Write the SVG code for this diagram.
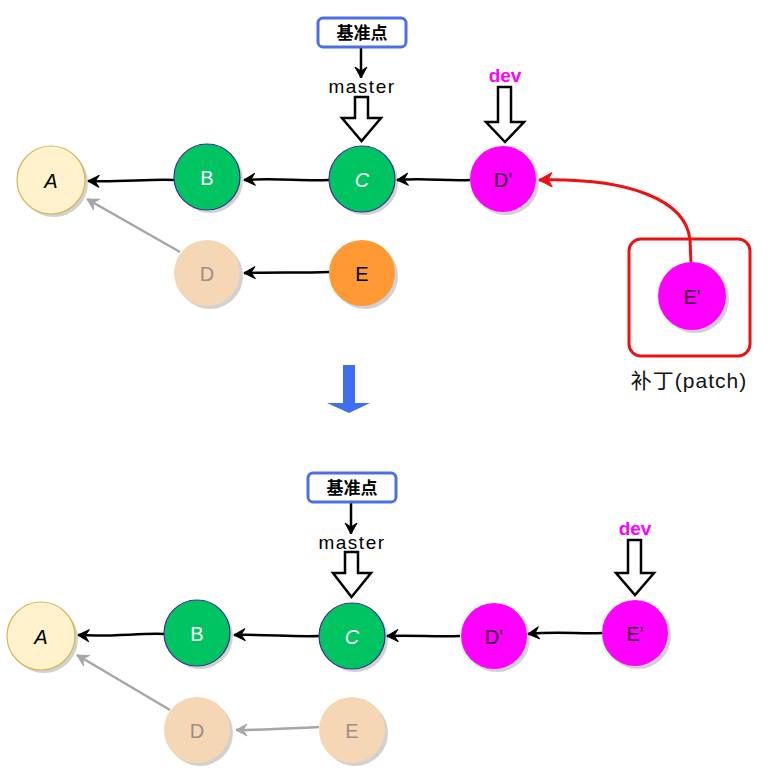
<svg xmlns="http://www.w3.org/2000/svg" width="771" height="783" viewBox="0 0 771 783">
<style>
text{font-family:"Liberation Sans","Noto Sans CJK SC",sans-serif;text-anchor:middle}
.sh{fill:#000;opacity:.18}
.lbl{font-size:20px;dominant-baseline:central}
.nA{fill:#fff2cc;stroke:#d6b656;stroke-width:1.2}
.nG{fill:#00c462;stroke:#3a2f96;stroke-width:1.2}
.nP{fill:#ff00ff;stroke:none}
.nO{fill:#ff9933;stroke:none}
.nF{fill:#f5d6b5;stroke:none}
.tW{fill:#fff}
.tK{fill:#000}
.tP{fill:#33002e}
.tF{fill:#9a8f88}
.base{fill:#fff;stroke:#4d6fe6;stroke-width:3}
.baset{font-size:17px;font-weight:bold;fill:#000}
.mt{font-size:19px;fill:#000;letter-spacing:1.5px}
.dev{font-size:19px;font-weight:bold;fill:#ff00ff}
.hollow{fill:#fff;stroke:#000;stroke-width:2.5;stroke-linejoin:miter}
.c{fill:none;stroke:#000;stroke-width:2.5}
.cg{fill:none;stroke:#a6a6a6;stroke-width:2.5}
.cr{fill:none;stroke:#ee1111;stroke-width:3}
</style>
<defs>
<marker id="ak" markerWidth="14" markerHeight="14" refX="12" refY="7" orient="auto" markerUnits="userSpaceOnUse"><path d="M1,1 L12,7 L1,13 L5,7 z" fill="#000" stroke="#000" stroke-width="1" stroke-linejoin="round"/></marker>
<marker id="ag" markerWidth="14" markerHeight="14" refX="12" refY="7" orient="auto" markerUnits="userSpaceOnUse"><path d="M1,1 L12,7 L1,13 L5,7 z" fill="#a6a6a6" stroke="#a6a6a6" stroke-width="1" stroke-linejoin="round"/></marker>
<marker id="ar" markerWidth="16" markerHeight="16" refX="14" refY="8" orient="auto" markerUnits="userSpaceOnUse"><path d="M1,1 L14,8 L1,15 L5,8 z" fill="#ee1111" stroke="#ee1111" stroke-width="1" stroke-linejoin="round"/></marker>
</defs>

<g id="connectors">
<path class="c" d="M174,180 C150,179 120,182 88,181" marker-end="url(#ak)"/>
<path class="c" d="M329,180 C300,181 275,178 244,180" marker-end="url(#ak)"/>
<path class="c" d="M470,180 C445,181 425,178 397,180" marker-end="url(#ak)"/>
<path class="c" d="M329,272 C300,273 275,272 244,273" marker-end="url(#ak)"/>
<path class="cg" d="M180,252 L87,199" marker-end="url(#ag)"/>
<path class="cr" d="M691,263 L690,240 C686,200 630,178 539,180" marker-end="url(#ar)"/>
<path class="c" d="M361,47 L361,78" marker-end="url(#ak)"/>
<path class="c" d="M351,503 L351,534" marker-end="url(#ak)"/>
<path class="c" d="M164,634 C140,633 110,637 78,635" marker-end="url(#ak)"/>
<path class="c" d="M319,636 C290,637 265,634 234,635" marker-end="url(#ak)"/>
<path class="c" d="M460,636 C435,637 415,635 387,636" marker-end="url(#ak)"/>
<path class="c" d="M602,633 C580,634 555,631 528,634" marker-end="url(#ak)"/>
<path class="cg" d="M170,710 L77,655" marker-end="url(#ag)"/>
<path class="cg" d="M319,727 C295,728 268,730 236,730" marker-end="url(#ag)"/>
</g>

<g id="base1"><rect class="base" x="318" y="18" width="88" height="29" rx="5"/><text class="baset" x="362" y="39">基准点</text></g>
<g id="master1"><text class="mt" x="362" y="93">master</text><polygon class="hollow" points="355,97 368,97 368,118 381,118 361.5,141 342,118 355,118"/></g>
<g id="dev1"><text class="dev" x="505" y="82">dev</text><polygon class="hollow" points="498,87 511,87 511,122 524,122 505,142 486,122 498,122"/></g>

<g id="A1"><circle class="sh" cx="54" cy="183" r="34"/><circle class="nA" cx="51" cy="180" r="34"/><text class="lbl tK" x="51" y="181" font-style="italic">A</text></g>
<g id="B1"><circle class="sh" cx="210" cy="180" r="33"/><circle class="nG" cx="207" cy="177" r="33"/><text class="lbl tW" x="207" y="178">B</text></g>
<g id="C1"><circle class="sh" cx="365" cy="182" r="33"/><circle class="nG" cx="362" cy="179" r="33"/><text class="lbl tW" x="362" y="180" font-style="italic">C</text></g>
<g id="Dp1"><circle class="sh" cx="506" cy="182" r="33"/><circle class="nP" cx="503" cy="179" r="33"/><text class="lbl tP" x="503" y="180">D'</text></g>
<g id="D1"><circle class="sh" cx="210" cy="276" r="33" opacity=".1"/><circle class="nF" cx="207" cy="273" r="33"/><text class="lbl tF" x="207" y="274">D</text></g>
<g id="E1"><circle class="sh" cx="365" cy="276" r="33"/><circle class="nO" cx="362" cy="273" r="33"/><text class="lbl tK" x="362" y="274">E</text></g>

<g id="patch"><rect x="629" y="239" width="121" height="117" rx="12" fill="none" stroke="#ee1111" stroke-width="3"/>
<circle class="sh" cx="695" cy="299" r="34"/><circle class="nP" cx="692" cy="296" r="34"/><text class="lbl tP" x="692" y="297">E'</text>
<text x="689" y="388" font-size="21" fill="#111" letter-spacing="1">补丁(patch)</text></g>

<g id="bigarrow"><polygon points="343,365 355,365 355,403 370,403 349,413 327,403 343,403" fill="#3f6ff0"/></g>

<g id="base2"><rect class="base" x="308" y="473" width="88" height="29" rx="5"/><text class="baset" x="352" y="494">基准点</text></g>
<g id="master2"><text class="mt" x="352" y="549">master</text><polygon class="hollow" points="345,552 358,552 358,573 371,573 351.5,597 333,573 345,573"/></g>
<g id="dev2"><text class="dev" x="635" y="535">dev</text><polygon class="hollow" points="628,540 641,540 641,573 654,573 635,595 616,573 628,573"/></g>

<g id="A2"><circle class="sh" cx="44" cy="639" r="34"/><circle class="nA" cx="41" cy="636" r="34"/><text class="lbl tK" x="41" y="637" font-style="italic">A</text></g>
<g id="B2"><circle class="sh" cx="200" cy="636" r="33"/><circle class="nG" cx="197" cy="633" r="33"/><text class="lbl tW" x="197" y="634">B</text></g>
<g id="C2"><circle class="sh" cx="355" cy="639" r="33"/><circle class="nG" cx="352" cy="636" r="33"/><text class="lbl tW" x="352" y="637" font-style="italic">C</text></g>
<g id="Dp2"><circle class="sh" cx="497" cy="639" r="33"/><circle class="nP" cx="494" cy="636" r="33"/><text class="lbl tP" x="494" y="637">D'</text></g>
<g id="Ep2"><circle class="sh" cx="638" cy="636" r="33"/><circle class="nP" cx="635" cy="633" r="33"/><text class="lbl tP" x="635" y="634">E'</text></g>
<g id="D2"><circle class="sh" cx="200" cy="733" r="33" opacity=".1"/><circle class="nF" cx="197" cy="730" r="33"/><text class="lbl tF" x="197" y="731">D</text></g>
<g id="E2"><circle class="sh" cx="355" cy="733" r="33" opacity=".1"/><circle class="nF" cx="352" cy="730" r="33"/><text class="lbl tF" x="352" y="731">E</text></g>
</svg>
